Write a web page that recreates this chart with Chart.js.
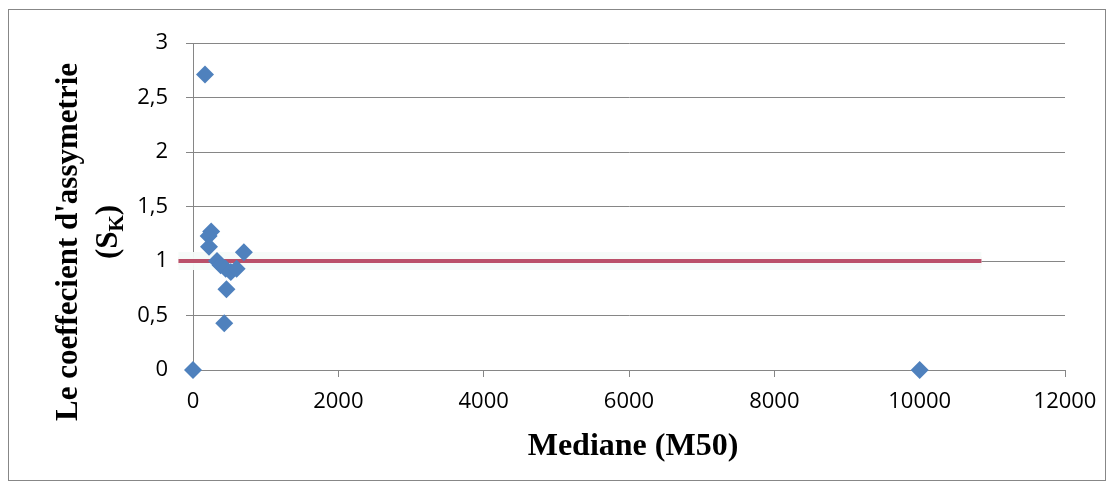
<!DOCTYPE html>
<html>
<head>
<meta charset="utf-8">
<script src="https://cdn.jsdelivr.net/npm/chart.js@4.4.0/dist/chart.umd.min.js"></script>
<style>
  html, body { margin: 0; padding: 0; background: #fff; }
  #wrap { width: 1113px; height: 487px; }
</style>
</head>
<body>
<div id="wrap"><canvas id="chart" width="1113" height="487"></canvas></div>
<script>
// Mediane (M50) vs coefficient d'assymetrie
const medianes = [0, 165, 250, 215, 220, 700, 330, 380, 450, 520, 600, 460, 430, 10000];
const coeffs   = [0, 2.71, 1.27, 1.23, 1.13, 1.08, 1.0, 0.96, 0.93, 0.90, 0.93, 0.74, 0.43, 0];

// ligne de reference Sk = 1
const refX = [-200, 10850];
const refY = [1, 1];

const xTicks = [0, 2000, 4000, 6000, 8000, 10000, 12000];
const yTicks = [0, 0.5, 1, 1.5, 2, 2.5, 3];

const pts = medianes.map((m, i) => ({ x: m, y: coeffs[i] }));
const ref = refX.map((x, i) => ({ x: x, y: refY[i] }));

const fmt = v => String(v).replace('.', ',');

// cadre + titres des axes
const deco = {
    id: 'deco',
    beforeDraw(chart) {
        const c = chart.ctx;
        c.save();
        c.fillStyle = '#fff';
        c.fillRect(0, 0, chart.width, chart.height);
        c.strokeStyle = '#878787';
        c.lineWidth = 1;
        c.strokeRect(8.5, 9.5, 1097, 471);
        c.restore();
    },
    afterDraw(chart) {
        const c = chart.ctx;
        const big = 'bold 31px "Liberation Serif"';
        const small = 'bold 21px "Liberation Serif"';
        c.save();
        c.fillStyle = '#000';
        c.font = 'bold 32px "Liberation Serif"';
        c.textAlign = 'center';
        c.textBaseline = 'middle';
        c.fillText('Mediane (M50)', 633, 447);

        c.textBaseline = 'alphabetic';
        c.font = big;
        c.translate(77, 242);
        c.rotate(-Math.PI / 2);
        c.fillText("Le coeffecient d'assymetrie", 0, 0);
        c.restore();

        // (S_K)
        c.save();
        c.fillStyle = '#000';
        c.textBaseline = 'alphabetic';
        c.translate(117, 232);
        c.rotate(-Math.PI / 2);
        c.font = big;
        const w1 = c.measureText('(S').width;
        const w3 = c.measureText(')').width;
        c.font = small;
        const w2 = c.measureText('K').width;
        const x0 = -(w1 + w2 + w3) / 2;
        c.textAlign = 'left';
        c.font = big;
        c.fillText('(S', x0, 0);
        c.font = small;
        c.fillText('K', x0 + w1, 6);
        c.font = big;
        c.fillText(')', x0 + w1 + w2, 0);
        c.restore();
    }
};

const tickFont = { family: '"Open Sans"', size: 22 };

new Chart(document.getElementById('chart'), {
    type: 'scatter',
    data: {
        datasets: [
            {
                type: 'line',
                data: ref,
                borderColor: 'rgba(246, 251, 249, 0.95)',
                borderWidth: 18,
                pointRadius: 0,
                clip: false,
                order: 3
            },
            {
                type: 'line',
                data: ref,
                borderColor: 'rgba(236, 200, 210, 0.6)',
                borderWidth: 8,
                pointRadius: 0,
                clip: false,
                order: 3
            },
            {
                type: 'line',
                data: ref,
                borderColor: 'rgba(182, 72, 98, 0.95)',
                borderWidth: 4,
                pointRadius: 0,
                clip: false,
                order: 2
            },
            {
                data: pts,
                pointStyle: 'rectRot',
                pointRadius: 9,
                pointHoverRadius: 9,
                backgroundColor: '#4F81BD',
                borderColor: '#4F81BD',
                borderWidth: 0,
                clip: false,
                order: 1
            }
        ]
    },
    options: {
        responsive: false,
        animation: false,
        devicePixelRatio: 1,
        layout: { padding: { top: 43, right: 48, left: 0, bottom: 0 } },
        plugins: { legend: { display: false }, tooltip: { enabled: false } },
        scales: {
            x: {
                type: 'linear',
                min: 0, max: 12000,
                afterBuildTicks: s => { s.ticks = xTicks.map(v => ({ value: v })); },
                afterFit: s => { s.height = 117; },
                border: { color: '#868686', width: 1 },
                grid: { drawOnChartArea: false, drawTicks: true, tickLength: 7, color: '#868686' },
                ticks: { color: '#000', font: tickFont, padding: 12, maxRotation: 0, callback: v => String(v) }
            },
            y: {
                min: 0, max: 3,
                afterBuildTicks: s => { s.ticks = yTicks.map(v => ({ value: v })); },
                afterFit: s => { s.width = 193; },
                border: { color: '#868686', width: 1 },
                grid: { color: '#868686', tickLength: 7 },
                ticks: { color: '#000', font: tickFont, padding: 18, callback: v => fmt(v) }
            }
        }
    },
    plugins: [deco]
});
</script>
</body>
</html>
